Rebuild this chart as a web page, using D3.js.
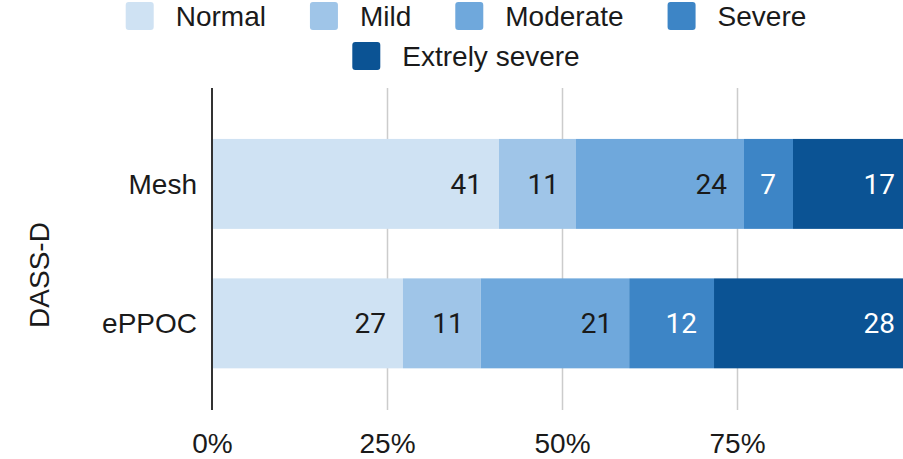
<!DOCTYPE html>
<html>
<head>
<meta charset="utf-8">
<script src="https://cdn.jsdelivr.net/npm/d3@7"></script>
<style>
  html, body { margin: 0; padding: 0; background: #fff; }
  svg { display: block; }
</style>
</head>
<body>
<svg id="chart" width="903" height="459"></svg>
<script>
// DASS-D severity distribution per group (percent of respondents)
const groups = ["Mesh", "ePPOC"];
const levels = ["Normal", "Mild", "Moderate", "Severe", "Extrely severe"];
const meshValues = [41, 11, 24, 7, 17];
const eppocValues = [27, 11, 21, 12, 28];
const levelColors = ["#cfe2f3", "#9fc5e8", "#6fa8dc", "#3d85c6", "#0b5394"];
const labelColors = ["#1a1a1a", "#1a1a1a", "#1a1a1a", "#ffffff", "#ffffff"];
const tickValues = [0, 0.25, 0.5, 0.75];
const tickLabels = ["0%", "25%", "50%", "75%"];
const gridValues = [0.25, 0.5, 0.75, 1];
const axisTitle = "DASS-D";

const rows = groups.map((g, i) => {
  const vals = i === 0 ? meshValues : eppocValues;
  const row = { group: g };
  levels.forEach((l, j) => row[l] = vals[j]);
  return row;
});

const svg = d3.select("#chart");
const plotLeft = 212, plotRight = 912, plotTop = 88, plotBottom = 410;
const sansFont = "'Liberation Sans', Arial, sans-serif";

const x = d3.scaleLinear().domain([0, 1]).range([plotLeft, plotRight]);
const y = d3.scaleBand().domain(groups).range([plotTop, plotBottom])
  .paddingInner(0.355).paddingOuter(0.332).align(0.55);
const color = d3.scaleOrdinal().domain(levels).range(levelColors);

// each bar is normalised to 100%
const series = d3.stack().keys(levels).offset(d3.stackOffsetExpand)(rows);

// vertical gridlines
const grid = svg.append("g")
  .attr("transform", `translate(0,${plotBottom})`)
  .call(d3.axisBottom(x).tickValues(gridValues).tickSize(-(plotBottom - plotTop)).tickFormat(""));
grid.select(".domain").remove();
grid.selectAll(".tick line").attr("stroke", "#cccccc").attr("stroke-width", 1.5);

// stacked segments
const layer = svg.append("g").selectAll("g")
  .data(series).join("g")
  .attr("fill", d => color(d.key));
layer.selectAll("rect")
  .data(d => d.map(p => ({ key: d.key, p })))
  .join("rect")
  .attr("x", d => x(d.p[0]))
  .attr("y", d => y(d.p.data.group))
  .attr("width", d => x(d.p[1]) - x(d.p[0]))
  .attr("height", y.bandwidth());

// value labels, right-aligned inside each segment
series.forEach((s, j) => {
  svg.append("g").selectAll("text")
    .data(s).join("text")
    .attr("x", p => x(p[1]) - 17)
    .attr("y", p => y(p.data.group) + y.bandwidth() / 2)
    .attr("dy", "0.36em")
    .attr("text-anchor", "end")
    .attr("font-family", "Roboto, sans-serif")
    .attr("font-size", 28)
    .attr("fill", labelColors[j])
    .text(p => p.data[s.key]);
});

// x-axis tick labels
const xAxis = svg.append("g")
  .attr("transform", `translate(0,${plotBottom})`)
  .call(d3.axisBottom(x).tickValues(tickValues).tickSize(0).tickPadding(23)
    .tickFormat((d, i) => tickLabels[i]));
xAxis.select(".domain").remove();
xAxis.selectAll("text").attr("font-family", sansFont).attr("font-size", 28).attr("fill", "#1a1a1a");

// baseline at 0%
svg.append("line")
  .attr("x1", x(0)).attr("x2", x(0))
  .attr("y1", plotTop).attr("y2", plotBottom)
  .attr("stroke", "#333").attr("stroke-width", 2);

// group labels
const yAxis = svg.append("g")
  .attr("transform", `translate(${plotLeft},0)`)
  .call(d3.axisLeft(y).tickSize(0).tickPadding(15));
yAxis.select(".domain").remove();
yAxis.selectAll("text").attr("font-family", sansFont).attr("font-size", 28).attr("fill", "#1a1a1a")
  .attr("dy", "0.36em");

// axis title
svg.append("text")
  .attr("transform", `translate(49,275) rotate(-90)`)
  .attr("text-anchor", "middle")
  .attr("font-family", sansFont).attr("font-size", 28).attr("fill", "#1a1a1a")
  .text(axisTitle);

// legend: centred rows that wrap
const legend = svg.append("g");
const items = legend.selectAll("g").data(levels).join("g");
items.append("rect")
  .attr("width", 28).attr("height", 28).attr("rx", 3)
  .attr("y", -14)
  .attr("fill", d => color(d));
items.append("text")
  .attr("x", 50).attr("dy", "0.36em")
  .attr("font-family", sansFont).attr("font-size", 28).attr("fill", "#1a1a1a")
  .text(d => d);
const gap = 44, maxRow = 720, centerX = 466, rowY = [16, 56];
const widths = [];
items.each(function() { widths.push(50 + d3.select(this).select("text").node().getComputedTextLength()); });
const rowsL = [[]];
let cur = 0;
widths.forEach((w, i) => {
  const r = rowsL[rowsL.length - 1];
  if (r.length && cur + gap + w > maxRow) { rowsL.push([i]); cur = w; }
  else { cur += (r.length ? gap : 0) + w; r.push(i); }
});
rowsL.forEach((r, ri) => {
  const total = d3.sum(r, i => widths[i]) + gap * (r.length - 1);
  let xx = centerX - total / 2;
  r.forEach(i => {
    items.filter((d, k) => k === i).attr("transform", `translate(${xx},${rowY[ri]})`);
    xx += widths[i] + gap;
  });
});
</script>
</body>
</html>
